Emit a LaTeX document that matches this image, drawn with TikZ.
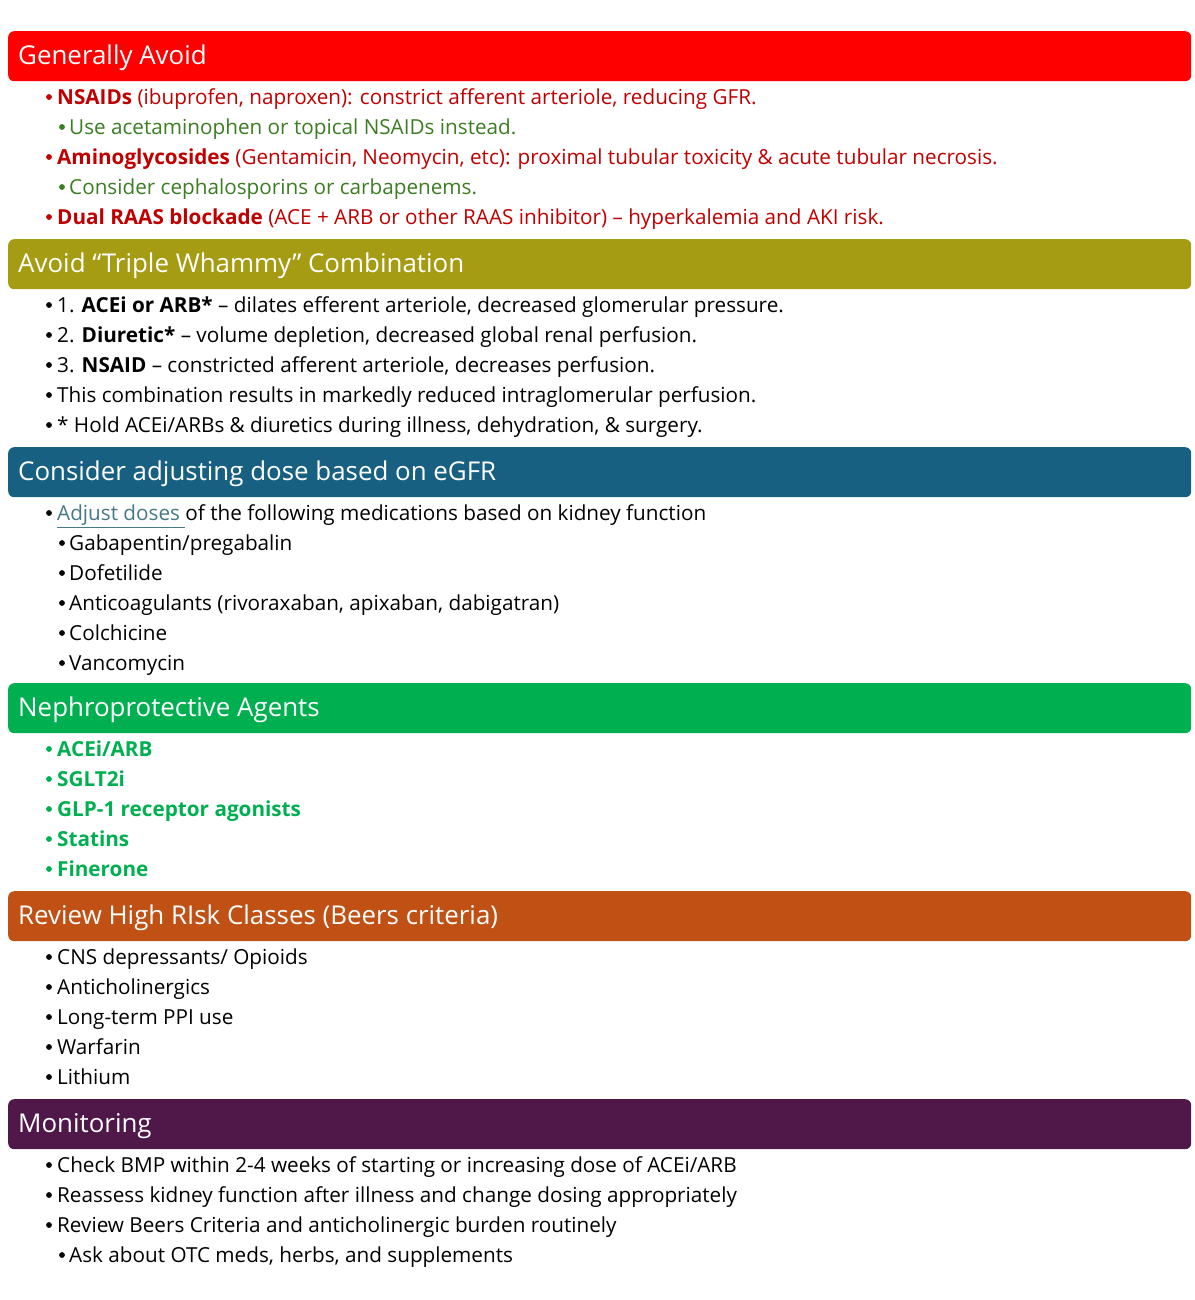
\documentclass[tikz,border=0pt]{standalone}
\usepackage{fontspec}
\setmainfont{Open Sans}
\definecolor{barred}{HTML}{FF0000}
\definecolor{barolive}{HTML}{A69C14}
\definecolor{barblue}{HTML}{186082}
\definecolor{bargreen}{HTML}{00B050}
\definecolor{barorange}{HTML}{C05014}
\definecolor{barpurple}{HTML}{501749}
\definecolor{txtred}{HTML}{C00000}
\definecolor{txtgreen}{HTML}{3A7D22}
\definecolor{txtlink}{HTML}{467886}
\newcommand\sechdr[4]{%
  \node[bar, fill=#3] (#1) at (8,#2) {};
  \node[ttl] (#1t) at (18,#2+33.5) {#4};}
\newcommand\bitem[6]{%
  \node[dot, fill=#5] (#1d) at (#2,#4) {};
  \node[txt, text=#5] (#1) at (#3,#4+7.5) {#6};}
\begin{document}
\begin{tikzpicture}[x=1pt,y=-1pt,
  bar/.style={rounded corners=6pt, draw=none, anchor=north west, minimum width=1183pt, minimum height=50pt, inner sep=0pt},
  ttl/.style={anchor=base west, text=white, font=\fontsize{25.9}{30}\selectfont, inner sep=0pt},
  txt/.style={anchor=base west, inner sep=0pt, font=\fontsize{20.7}{24}\selectfont},
  dot/.style={circle, draw=none, inner sep=0pt, minimum size=5.8pt}]
\useasboundingbox (0,0) rectangle (1194,1300);
% Section 1
\sechdr{s1}{31}{barred}{Generally Avoid}
\bitem{a1}{49}{57}{97}{txtred}{\textbf{NSAIDs} (ibuprofen, naproxen): constrict afferent arteriole, reducing GFR.}
\bitem{a2}{62}{69}{127}{txtgreen}{Use acetaminophen or topical NSAIDs instead.}
\bitem{a3}{49}{57}{157}{txtred}{\textbf{Aminoglycosides} (Gentamicin, Neomycin, etc): proximal tubular toxicity \& acute tubular necrosis.}
\bitem{a4}{62}{69}{187}{txtgreen}{Consider cephalosporins or carbapenems.}
\bitem{a5}{49}{57}{217}{txtred}{\textbf{Dual RAAS blockade} (ACE + ARB or other RAAS inhibitor) – hyperkalemia and AKI risk.}
% Section 2
\sechdr{s2}{239}{barolive}{Avoid “Triple Whammy” Combination}
\bitem{b1}{49}{57}{305}{black}{1. \textbf{ACEi or ARB*} – dilates efferent arteriole, decreased glomerular pressure.}
\bitem{b2}{49}{57}{335}{black}{2. \textbf{Diuretic*} – volume depletion, decreased global renal perfusion.}
\bitem{b3}{49}{57}{365}{black}{3. \textbf{NSAID} – constricted afferent arteriole, decreases perfusion.}
\bitem{b4}{49}{57}{395}{black}{This combination results in markedly reduced intraglomerular perfusion.}
\bitem{b5}{49}{57}{425}{black}{* Hold ACEi/ARBs \& diuretics during illness, dehydration, \& surgery.}
% Section 3
\sechdr{s3}{447}{barblue}{Consider adjusting dose based on eGFR}
\bitem{c1}{49}{57}{513}{black}{\textcolor{txtlink}{\underline{Adjust doses\ }}of the following medications based on kidney function}
\bitem{c2}{62}{69}{543}{black}{Gabapentin/pregabalin}
\bitem{c3}{62}{69}{573}{black}{Dofetilide}
\bitem{c4}{62}{69}{603}{black}{Anticoagulants (rivoraxaban, apixaban, dabigatran)}
\bitem{c5}{62}{69}{633}{black}{Colchicine}
\bitem{c6}{62}{69}{663}{black}{Vancomycin}
% Section 4
\sechdr{s4}{683}{bargreen}{Nephroprotective Agents}
\bitem{d1}{49}{57}{749}{bargreen}{\textbf{ACEi/ARB}}
\bitem{d2}{49}{57}{779}{bargreen}{\textbf{SGLT2i}}
\bitem{d3}{49}{57}{809}{bargreen}{\textbf{GLP-1 receptor agonists}}
\bitem{d4}{49}{57}{839}{bargreen}{\textbf{Statins}}
\bitem{d5}{49}{57}{869}{bargreen}{\textbf{Finerone}}
% Section 5
\sechdr{s5}{891}{barorange}{Review High RIsk Classes (Beers criteria)}
\bitem{e1}{49}{57}{957}{black}{CNS depressants/ Opioids}
\bitem{e2}{49}{57}{987}{black}{Anticholinergics}
\bitem{e3}{49}{57}{1017}{black}{Long-term PPI use}
\bitem{e4}{49}{57}{1047}{black}{Warfarin}
\bitem{e5}{49}{57}{1077}{black}{Lithium}
% Section 6
\sechdr{s6}{1099}{barpurple}{Monitoring}
\bitem{f1}{49}{57}{1165}{black}{Check BMP within 2-4 weeks of starting or increasing dose of ACEi/ARB}
\bitem{f2}{49}{57}{1195}{black}{Reassess kidney function after illness and change dosing appropriately}
\bitem{f3}{49}{57}{1225}{black}{Review Beers Criteria and anticholinergic burden routinely}
\bitem{f4}{62}{69}{1255}{black}{Ask about OTC meds, herbs, and supplements}
\end{tikzpicture}
\end{document}
